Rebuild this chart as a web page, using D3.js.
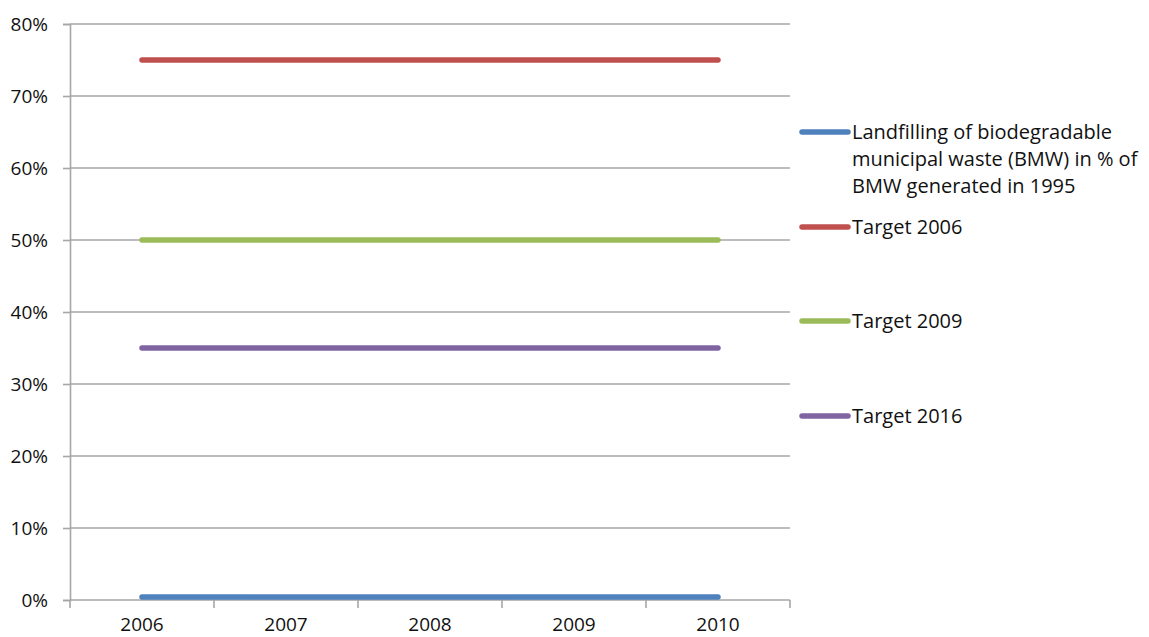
<!DOCTYPE html>
<html>
<head>
<meta charset="utf-8">
<script src="https://cdn.jsdelivr.net/npm/d3@7/dist/d3.min.js"></script>
<style>
  html, body { margin: 0; padding: 0; background: #fff; }
  svg text { font-family: "Open Sans", "Liberation Sans", sans-serif; fill: #111; }
</style>
</head>
<body>
<svg id="chart" width="1149" height="637"></svg>
<script>
// Years on the category axis
const years = ["2006", "2007", "2008", "2009", "2010"];

// Series values, share in percent
const landfillBMW = [0.4, 0.4, 0.4, 0.4, 0.4];
const target2006 = [75, 75, 75, 75, 75];
const target2009 = [50, 50, 50, 50, 50];
const target2016 = [35, 35, 35, 35, 35];

// Value axis ticks
const yTicks = [0, 10, 20, 30, 40, 50, 60, 70, 80];

const seriesNames = [
  ["Landfilling of biodegradable", "municipal waste (BMW) in % of", "BMW generated in 1995"],
  ["Target 2006"],
  ["Target 2009"],
  ["Target 2016"]
];
const seriesColors = ["#4F81BD", "#C0504D", "#9BBB59", "#8064A2"];
const seriesValues = [landfillBMW, target2006, target2009, target2016];

const svg = d3.select("#chart");
const plot = { left: 70, right: 790, top: 24, bottom: 600 };

const x = d3.scaleBand().domain(years).range([plot.left, plot.right]).padding(0);
const y = d3.scaleLinear().domain([0, 80]).range([plot.bottom, plot.top]);

// Horizontal gridlines
svg.append("g")
  .selectAll("line")
  .data(yTicks.filter(t => t > 0))
  .join("line")
  .attr("x1", plot.left).attr("x2", plot.right)
  .attr("y1", d => y(d)).attr("y2", d => y(d))
  .attr("stroke", "#a6a6a6").attr("stroke-width", 1.6);

// Value axis
const yAxis = svg.append("g")
  .attr("transform", `translate(${plot.left},0)`)
  .call(d3.axisLeft(y).tickValues(yTicks).tickFormat(d => d + "%").tickSize(7).tickPadding(15));
yAxis.select(".domain").attr("stroke", "#a6a6a6").attr("stroke-width", 1.6);
yAxis.selectAll(".tick line").attr("stroke", "#a6a6a6").attr("stroke-width", 1.6);
yAxis.selectAll("text").style("font-size", "19px").attr("fill", "#111").attr("dy", "0.36em");

// Category axis with ticks on the category boundaries
const xAxisG = svg.append("g").attr("transform", `translate(0,${plot.bottom})`);
xAxisG.append("line")
  .attr("x1", plot.left).attr("x2", plot.right)
  .attr("stroke", "#a6a6a6").attr("stroke-width", 1.6);
const boundaries = years.map(d => x(d)).concat([x(years[years.length - 1]) + x.bandwidth()]);
xAxisG.selectAll("line.tk")
  .data(boundaries)
  .join("line").attr("class", "tk")
  .attr("x1", d => d).attr("x2", d => d)
  .attr("y1", 0).attr("y2", 8)
  .attr("stroke", "#a6a6a6").attr("stroke-width", 1.6);
xAxisG.selectAll("text")
  .data(years)
  .join("text")
  .attr("x", d => x(d) + x.bandwidth() / 2)
  .attr("y", 31)
  .attr("text-anchor", "middle")
  .style("font-size", "19px")
  .text(d => d);

// Series lines
const line = d3.line()
  .x((d, i) => x(years[i]) + x.bandwidth() / 2)
  .y(d => y(d));

// Draw from the last series to the first so the data series sits on top
[3, 2, 1, 0].forEach(i => {
  svg.append("path")
    .datum(seriesValues[i])
    .attr("d", line)
    .attr("fill", "none")
    .attr("stroke", seriesColors[i])
    .attr("stroke-width", 5.5)
    .attr("stroke-linecap", "round")
    .attr("stroke-linejoin", "round");
});

// Legend
const legendRows = [132, 227, 321, 416];
const legend = svg.append("g");
legendRows.forEach((rowY, i) => {
  const g = legend.append("g").attr("transform", `translate(0,${rowY})`);
  g.append("line")
    .attr("x1", 802).attr("x2", 848)
    .attr("y1", 0).attr("y2", 0)
    .attr("stroke", seriesColors[i])
    .attr("stroke-width", 5.5)
    .attr("stroke-linecap", "round");
  const t = g.append("text")
    .attr("x", 852)
    .attr("y", 0)
    .style("font-size", "20px");
  seriesNames[i].forEach((s, k) => {
    t.append("tspan").attr("x", 852).attr("dy", k === 0 ? "0.36em" : 27).text(s);
  });
});
</script>
</body>
</html>
